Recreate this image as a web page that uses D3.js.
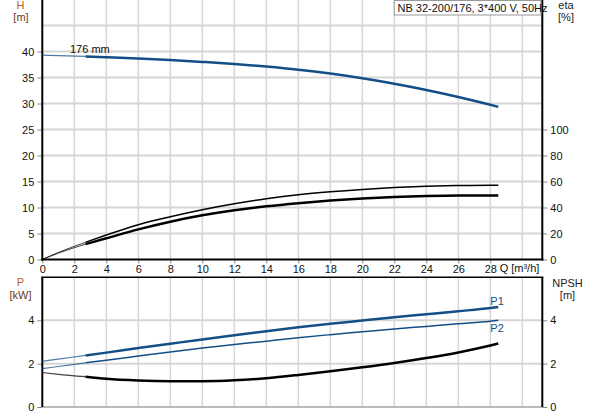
<!DOCTYPE html>
<html><head><meta charset="utf-8">
<script src="https://cdn.jsdelivr.net/npm/d3@7"></script>
<style>
body{margin:0;background:#fff;}
svg{display:block;font-family:"Liberation Sans",Arial,sans-serif;}
</style></head><body>
<script>
// ---- data ----
const qPts   = [0, 1, 2.7, 4, 6, 8, 10, 12, 14, 16, 18, 20, 22, 24, 26, 28, 28.5];
const headH  = [39.3, 39.2, 39.05, 38.9, 38.65, 38.35, 38.0, 37.6, 37.1, 36.5, 35.75, 34.85, 33.8, 32.6, 31.25, 29.75, 29.35];
const etaUp  = [0, 5.4, 13.2, 18.8, 26.8, 32.9, 38.3, 42.9, 46.7, 49.8, 52.1, 53.9, 55.3, 56.3, 56.9, 57.2, 57.1];
const etaLow = [0, 4.9, 11.8, 16.3, 23.2, 29.1, 34.0, 37.9, 40.9, 43.3, 45.3, 46.9, 48.1, 48.9, 49.3, 49.3, 49.2];
const powP1  = [2.11, 2.21, 2.38, 2.51, 2.72, 2.92, 3.12, 3.31, 3.50, 3.68, 3.84, 3.99, 4.14, 4.28, 4.42, 4.57, 4.62];
const powP2  = [1.77, 1.87, 2.04, 2.16, 2.35, 2.54, 2.72, 2.88, 3.04, 3.20, 3.34, 3.47, 3.60, 3.72, 3.84, 3.96, 4.00];
const npsh   = [1.59, 1.51, 1.40, 1.30, 1.22, 1.19, 1.19, 1.23, 1.33, 1.48, 1.65, 1.83, 2.03, 2.26, 2.52, 2.84, 2.93];
const qTicks   = [0,2,4,6,8,10,12,14,16,18,20,22,24,26,28];
const qGrid    = [2,4,6,8,10,12,14,16,18,20,22,24,26,28,30];
const hTicks   = [0,5,10,15,20,25,30,35,40];
const hGrid    = [5,10,15,20,25,30,35,40,45];
const etaTicks = [0,20,40,60,80,100];
const pTicks   = [0,2,4];
const title = "NB 32-200/176, 3*400 V, 50Hz";

const W=593,H=415;
const svg=d3.select("body").append("svg").attr("width",W).attr("height",H);

const x = d3.scaleLinear([0,31.25],[42.3,542.3]);
const yH = d3.scaleLinear([0,50],[259.5,-0.5]);
const yEta = d3.scaleLinear([0,200],[259.5,-0.5]);
const yP = d3.scaleLinear([0,6],[407,277]);
const yN = d3.scaleLinear([0,6],[407,277]);

const gridC="#d6d6d6", blue="#134f86";
const fmt=d3.format("d");

// grids
const g=svg.append("g");
g.selectAll(".vt").data(qGrid).join("line").attr("x1",d=>x(d)).attr("x2",d=>x(d))
  .attr("y1",0).attr("y2",259.5).attr("stroke",gridC).attr("stroke-width",1.5);
g.selectAll(".ht").data(hGrid).join("line").attr("x1",42.3).attr("x2",542.3)
  .attr("y1",d=>yH(d)).attr("y2",d=>yH(d)).attr("stroke",gridC).attr("stroke-width",2);
g.selectAll(".vb").data(qGrid).join("line").attr("x1",d=>x(d)).attr("x2",d=>x(d))
  .attr("y1",277).attr("y2",407).attr("stroke",gridC).attr("stroke-width",1.5);
g.selectAll(".hb").data([2,4]).join("line").attr("x1",42.3).attr("x2",542.3)
  .attr("y1",d=>yP(d)).attr("y2",d=>yP(d)).attr("stroke",gridC).attr("stroke-width",2);

// axes (ticks/labels)
function styleAxis(sel){
  sel.select(".domain").remove();
  sel.selectAll(".tick line").attr("stroke","#888");
  sel.selectAll(".tick text").attr("fill","#111").style("font-size","11px");
}
svg.append("g").attr("transform","translate(42.3,0)")
  .call(d3.axisLeft(yH).tickValues(hTicks).tickFormat(fmt).tickSize(5).tickPadding(3)).call(styleAxis);
svg.append("g").attr("transform","translate(542.3,0)")
  .call(d3.axisRight(yEta).tickValues(etaTicks).tickFormat(fmt).tickSize(5).tickPadding(3)).call(styleAxis);
svg.append("g").attr("transform","translate(0,259.5)")
  .call(d3.axisBottom(x).tickValues(qTicks).tickFormat(fmt).tickSize(4).tickPadding(2)).call(styleAxis);
svg.append("g").attr("transform","translate(42.3,0)")
  .call(d3.axisLeft(yP).tickValues(pTicks).tickFormat(fmt).tickSize(5).tickPadding(3)).call(styleAxis);
svg.append("g").attr("transform","translate(542.3,0)")
  .call(d3.axisRight(yN).tickValues(pTicks).tickFormat(fmt).tickSize(5).tickPadding(3)).call(styleAxis);

// frame lines
svg.append("line").attr("x1",42.3).attr("x2",42.3).attr("y1",0).attr("y2",260.5).attr("stroke","#000").attr("stroke-width",2);
svg.append("line").attr("x1",542.3).attr("x2",542.3).attr("y1",0).attr("y2",260.5).attr("stroke","#000").attr("stroke-width",2);
svg.append("line").attr("x1",41.3).attr("x2",543.3).attr("y1",259.5).attr("y2",259.5).attr("stroke","#000").attr("stroke-width",2);
svg.append("line").attr("x1",42.3).attr("x2",542.3).attr("y1",407).attr("y2",407).attr("stroke","#bbb").attr("stroke-width",2);
svg.append("line").attr("x1",41.3).attr("x2",543.3).attr("y1",277.3).attr("y2",277.3).attr("stroke","#000").attr("stroke-width",1.5);
svg.append("line").attr("x1",42.3).attr("x2",42.3).attr("y1",277).attr("y2",407).attr("stroke","#000").attr("stroke-width",2);
svg.append("line").attr("x1",542.3).attr("x2",542.3).attr("y1",277).attr("y2",407).attr("stroke","#000").attr("stroke-width",2);

// curves
function drawCurve(vals, ys, color, wThin, wThick){
  const pts = qPts.map((q,i)=>[q,vals[i]]);
  const line = d3.line().x(d=>x(d[0])).y(d=>ys(d[1])).curve(d3.curveMonotoneX);
  svg.append("path").attr("d",line(pts.filter(d=>d[0]<=2.7))).attr("fill","none")
    .attr("stroke",color).attr("stroke-width",wThin).attr("stroke-opacity",0.75);
  svg.append("path").attr("d",line(pts.filter(d=>d[0]>=2.7))).attr("fill","none")
    .attr("stroke",color).attr("stroke-width",wThick).attr("stroke-linejoin","round");
}
drawCurve(headH, yH, blue, 1.2, 2.5);
drawCurve(etaUp, yEta, "#000", 1.0, 1.5);
drawCurve(etaLow, yEta, "#000", 1.0, 2.5);
drawCurve(powP1, yP, blue, 1.2, 2.5);
drawCurve(powP2, yP, blue, 1.2, 1.5);
drawCurve(npsh, yN, "#000", 1.2, 2.5);

// texts
function txt(s,xx,yy,fill,anchor){
  svg.append("text").attr("x",xx).attr("y",yy).attr("fill",fill||"#111")
    .attr("text-anchor",anchor||"middle").style("font-size","11px").text(s);
}
txt("H",20.5,9,"#c0601a");
txt("[m]",21,21,"#6b3a1a");
txt("P",20.5,286,"#c0601a");
txt("[kW]",20.5,299,"#6b3a1a");
txt("eta",566,9,"#222");
txt("[%]",566,21,"#222");
txt("NPSH",567.5,287,"#222");
txt("[m]",567.5,299,"#222");
txt("Q [m³/h]",519.5,272,"#111");
txt("176 mm",70,53,"#111","start");
txt("P1",x(28.5)-8,305,blue,"start");
txt("P2",x(28.5)-8,332,blue,"start");

// title box
svg.append("rect").attr("x",394.3).attr("y",0.5).attr("width",146.5).attr("height",14.5)
  .attr("fill","#fff").attr("stroke","#999").attr("stroke-width",1);
txt(title,397.5,11.5,"#111","start");
</script>
</body></html>
